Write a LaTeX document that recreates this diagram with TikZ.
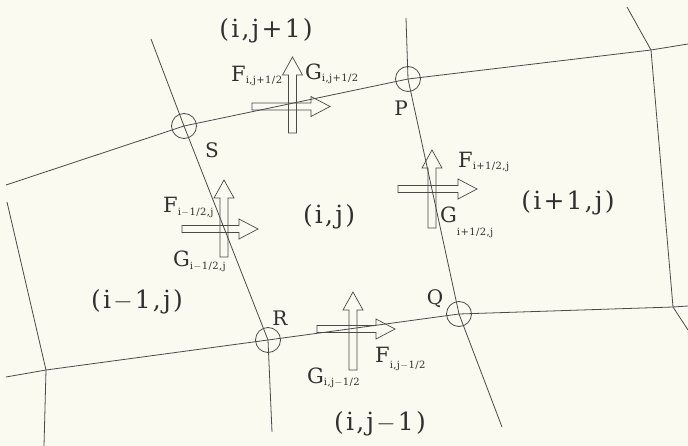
\documentclass[tikz,border=0pt]{standalone}
\usepackage{fontspec}
\setmainfont{DejaVu Serif}
\definecolor{bg}{HTML}{FAFAF0}
\definecolor{ink}{HTML}{303030}
\definecolor{gridc}{HTML}{4A4A4A}
\newcommand\bigfont{\fontsize{25}{29}\selectfont}
\newcommand\ptfont{\fontsize{20}{24}\selectfont}
\newcommand\flfont{\fontsize{21}{25}\selectfont}
\newcommand\subfont{\fontsize{10}{12}\selectfont}
\newcommand\lsp{\kern2.2pt}
\newcommand\ssp{\kern0.4pt}
\tikzset{
  gridline/.style={draw=gridc, line width=0.8pt, line join=round},
  vertexc/.style={circle, draw=gridc, line width=0.8pt, minimum size=25pt, inner sep=0pt},
  fluxarrow/.style={draw=gridc, line width=0.7pt, line join=miter},
  cell/.style={text=ink, font=\bigfont, inner sep=0pt},
  ptlabel/.style={text=ink, font=\ptfont, inner sep=0pt},
  fluxlabel/.style={text=ink, font=\flfont, inner sep=0pt, anchor=base west},
}
% horizontal hollow arrow: tail centre (x,y), length
\newcommand\hflux[3]{\draw[fluxarrow] (#1,#2) ++(0,-3.5) -- ++({#3-19},0) -- ++(0,-6.5) -- ++(19,10) -- ++(-19,10) -- ++(0,-6.5) -- ++({19-#3},0) -- cycle;}
% vertical hollow arrow (pointing up): tail centre (x,y), length
\newcommand\vflux[3]{\draw[fluxarrow] (#1,#2) ++(-4,0) -- ++(0,{18-#3}) -- ++(-6,0) -- ++(10,-18) -- ++(10,18) -- ++(-6,0) -- ++(0,{#3-18}) -- cycle;}
\begin{document}
\begin{tikzpicture}[x=1pt,y=-1pt]
\fill[bg] (0,0) rectangle (688,446);
\useasboundingbox (0,0) rectangle (688,446);
% grid vertices
\node[vertexc] (S) at (184,126) {};
\node[vertexc] (P) at (408,79) {};
\node[vertexc] (R) at (268,340) {};
\node[vertexc] (Q) at (459,314) {};
\coordinate (t0) at (6,185);
\coordinate (t1) at (651,50);
\coordinate (t2) at (688,44);
\coordinate (b0) at (6,377);
\coordinate (b1) at (46,370);
\coordinate (b2) at (673,307);
\coordinate (b3) at (688,306);
\coordinate (l0) at (151,39);
\coordinate (l1) at (272,432);
\coordinate (r0) at (406,18);
\coordinate (r1) at (502,427);
\coordinate (fl0) at (7,202);
\coordinate (fl1) at (44,446);
\coordinate (fr0) at (627,7);
\coordinate (fr1) at (688,330);
% grid lines
\draw[gridline] (t0) -- (S.center) -- (P.center) -- (t1) -- (t2);
\draw[gridline] (b0) -- (b1) -- (R.center) -- (Q.center) -- (b2) -- (b3);
\draw[gridline] (l0) -- (S.center) -- (R.center) -- (l1);
\draw[gridline] (r0) -- (P.center) -- (Q.center) -- (r1);
\draw[gridline] (fl0) -- (b1) -- (fl1);
\draw[gridline] (fr0) -- (t1) -- (b2) -- (fr1);
% flux arrows
\hflux{252}{106.5}{78}
\vflux{292.5}{133}{76}
\hflux{182}{229}{76}
\vflux{224}{257}{77}
\hflux{398}{189}{79}
\vflux{432}{228}{78}
\hflux{317}{329}{78}
\vflux{353}{370}{78}
% cell labels
\node[cell] (cN) at (266,31) {(\lsp i\lsp,\lsp j\lsp+\lsp 1\lsp)};
\node[cell] (cC) at (329,217) {(\lsp i\lsp,\lsp j\lsp)};
\node[cell] (cE) at (568,203) {(\lsp i\lsp+\lsp 1\lsp,\lsp j\lsp)};
\node[cell] (cW) at (137,302) {(\lsp i\lsp$-$\lsp 1\lsp,\lsp j\lsp)};
\node[cell] (cS) at (380,424) {(\lsp i\lsp,\lsp j\lsp$-$\lsp 1\lsp)};
% vertex labels
\node[ptlabel] (lS) at (212,150) {S};
\node[ptlabel] (lP) at (401,108) {P};
\node[ptlabel] (lR) at (280,318) {R};
\node[ptlabel] (lQ) at (435,299) {Q};
% flux labels
\node[fluxlabel] (fN) at (231,82) {F\raisebox{-2pt}{\subfont i\ssp,\ssp j\ssp+\ssp1\ssp/\ssp2}};
\node[fluxlabel] (gN) at (305,80) {G\raisebox{-2pt}{\subfont i\ssp,\ssp j\ssp+\ssp1\ssp/\ssp2}};
\node[fluxlabel] (fW) at (163,213) {F\raisebox{-3pt}{\subfont i\ssp$-$\ssp1\ssp/\ssp2\ssp,\ssp j}};
\node[fluxlabel] (gW) at (173,267) {G\raisebox{-3pt}{\subfont i\ssp$-$\ssp1\ssp/\ssp2\ssp,\ssp j}};
\node[fluxlabel] (fE) at (458,168) {F\raisebox{-2pt}{\subfont i\ssp+\ssp1\ssp/\ssp2\ssp,\ssp j}};
\node[fluxlabel] (gE) at (440,223) {G\raisebox{-13pt}{\subfont i\ssp+\ssp1\ssp/\ssp2\ssp,\ssp j}};
\node[fluxlabel] (fS) at (375,362) {F\raisebox{-6pt}{\subfont i\ssp,\ssp j\ssp$-$\ssp1\ssp/\ssp2}};
\node[fluxlabel] (gS) at (307,383) {G\raisebox{-2pt}{\subfont i\ssp,\ssp j\ssp$-$\ssp1\ssp/\ssp2}};
\end{tikzpicture}
\end{document}
